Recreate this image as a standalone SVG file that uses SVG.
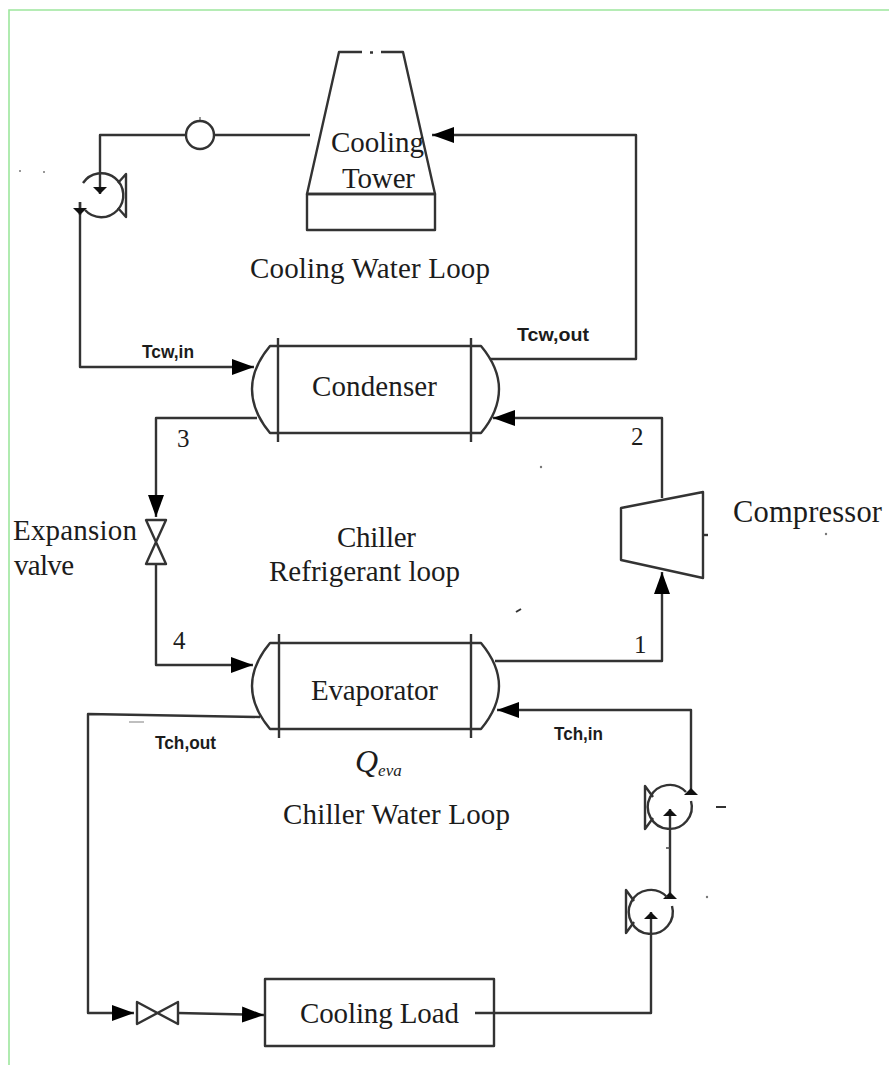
<svg xmlns="http://www.w3.org/2000/svg" width="889" height="1065" viewBox="0 0 889 1065">
<style>
.s{fill:none;stroke:#333;stroke-width:2.4;stroke-linejoin:round}
.big{marker-end:url(#big)}
.small{marker-end:url(#small)}
text{fill:#1c1c1c;font-family:"Liberation Serif","Times New Roman",serif;font-size:29px}
.b{font-family:"Liberation Sans",Arial,sans-serif;font-weight:bold;font-size:19px}
.n{font-size:25px}
.speck{fill:#777}
</style>
<defs>
<marker id="big" markerUnits="userSpaceOnUse" markerWidth="22" markerHeight="16" refX="22" refY="8" orient="auto"><path d="M0 0L22 8L0 16Z" fill="#000"/></marker>
<marker id="small" markerUnits="userSpaceOnUse" markerWidth="7" markerHeight="14" refX="7" refY="7" orient="auto"><path d="M0 0L7 7L0 14Z" fill="#111"/></marker>
</defs>
<rect width="889" height="1065" fill="#fff"/>
<path id="frame" d="M9 1065V10H889" fill="none" stroke="#9de69d" stroke-width="1.6"/>
<g id="connectors">
<path class="s" d="M186 135H100V194" marker-end="url(#small)"/>
<path class="s" d="M310 135H214"/>
<path class="s" d="M80 202V367H254" marker-end="url(#big)"/>
<path class="s small" d="M80 202V215"/>
<path class="s big" d="M490 359H636V135H432"/>
<path class="s big" d="M662 498V418H493"/>
<path class="s big" d="M257 418H156V517"/>
<path class="s big" d="M156 564V665H253"/>
<path class="s big" d="M495 661H662V572"/>
<path class="s big" d="M691 788V710H497"/>
<path class="s small" d="M691 794V788"/>
<path class="s small" d="M670 892V809"/>
<path class="s small" d="M670 898V892"/>
<path class="s small" d="M475 1013H651V912"/>
<path class="s big" d="M260 717L88 714V1013H134"/>
<path class="s big" d="M178 1013L264 1015"/>
</g>
<g id="cooling-tower">
<path class="s" d="M362 52H339L307 194H435L403 52H381M370 52.500H373"/>
<rect class="s" x="307" y="194" width="128" height="36"/>
<text x="331" y="152" textLength="93">Cooling</text>
<text x="342" y="188" textLength="73">Tower</text>
</g>
<text id="cooling-water-label" x="250" y="278" textLength="240">Cooling Water Loop</text>
<g id="flow-meter">
<circle class="s" cx="200" cy="135" r="14"/>
<path d="M200 121V117" stroke="#333" stroke-width="1"/>
</g>
<g id="cooling-water-pump">
<path class="s" d="M83 183A22 22 0 1 1 85 210"/>
<path class="s" d="M118 183L126 174V217L118 208"/>
</g>
<g id="condenser">
<path class="s" d="M270 346H481C491 358 499 372 499 389C499 406 491 421 481 433H270C260 421 252 406 252 389C252 372 260 358 270 346Z"/>
<path class="s" d="M278 338V442M471 338V442"/>
<text x="312" y="396" textLength="125">Condenser</text>
</g>
<text id="label-tcw-in" class="b" x="142" y="358" textLength="52" lengthAdjust="spacingAndGlyphs">Tcw,in</text>
<text id="label-tcw-out" class="b" x="517" y="341" textLength="72" lengthAdjust="spacingAndGlyphs">Tcw,out</text>
<text id="state-3" class="n" x="177" y="447">3</text>
<text id="state-2" class="n" x="631" y="445">2</text>
<g id="expansion-valve">
<path class="s" d="M146 520H166L146 564H166Z"/>
<text x="13" y="540" textLength="124">Expansion</text>
<text x="14" y="575" textLength="60">valve</text>
</g>
<g id="compressor">
<path class="s" d="M621 508L703 492V578L621 560Z"/>
<path class="s" d="M703 535H708"/>
<text x="733" y="522" style="font-size:30.500px" textLength="149">Compressor</text>
</g>
<text id="chiller-label" x="337" y="547" textLength="79">Chiller</text>
<text id="refrigerant-label" x="269" y="581" textLength="191">Refrigerant loop</text>
<text id="state-4" class="n" x="173" y="649">4</text>
<text id="state-1" class="n" x="634" y="653">1</text>
<g id="evaporator">
<path class="s" d="M270 643H481C491 655 499 669 499 686C499 703 491 717 481 729H270C260 717 252 703 252 686C252 669 260 655 270 643Z"/>
<path class="s" d="M279 634V738M471 634V738"/>
<text x="311" y="700" textLength="127">Evaporator</text>
</g>
<text id="label-tch-out" class="b" x="155" y="749" textLength="61" lengthAdjust="spacingAndGlyphs">Tch,out</text>
<text id="label-tch-in" class="b" x="554" y="740" textLength="49" lengthAdjust="spacingAndGlyphs">Tch,in</text>
<text id="q-eva" x="355" y="772" font-style="italic" style="font-size:32px">Q<tspan style="font-size:17px" dy="4">eva</tspan></text>
<text id="chiller-water-label" x="283" y="824" textLength="227">Chiller Water Loop</text>
<g id="chilled-water-pump-1">
<path class="s" d="M686 792A22 22 0 1 0 691 801"/>
<path class="s" d="M653 797L645 786V829L653 818"/>
</g>
<g id="chilled-water-pump-2">
<path class="s" d="M667 897A22 22 0 1 0 672 906"/>
<path class="s" d="M634 901L626 890V933L634 922"/>
</g>
<g id="globe-valve">
<path class="s" d="M137 1002L178 1024V1002L137 1024Z"/>
</g>
<g id="cooling-load">
<rect class="s" x="265" y="979" width="229" height="67"/>
<text x="300" y="1023" textLength="159">Cooling Load</text>
</g>
<g id="specks">
<circle class="speck" cx="20" cy="171" r="1"/>
<circle class="speck" cx="44" cy="172" r="1"/>
<circle class="speck" cx="541" cy="467" r="1.200"/>
<circle class="speck" cx="826" cy="534" r="1.200"/>
<path d="M516 612L521 609" stroke="#333" stroke-width="2"/>
<path d="M716 807H726" stroke="#333" stroke-width="2"/>
<path d="M129 722H144" stroke="#aaa" stroke-width="1.500"/>
<path d="M666 848H670" stroke="#444" stroke-width="1.500"/>
<circle class="speck" cx="707" cy="897" r="1.200"/>
</g>
</svg>
